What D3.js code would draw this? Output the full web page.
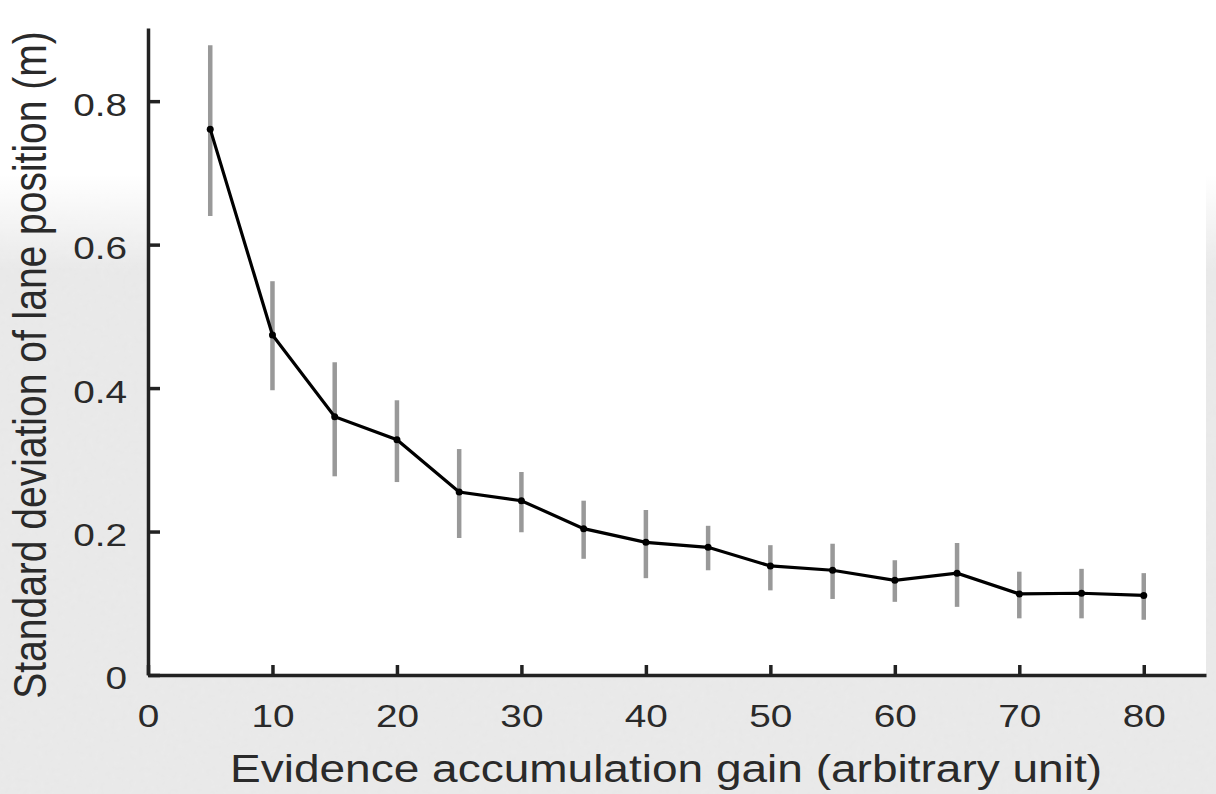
<!DOCTYPE html>
<html>
<head>
<meta charset="utf-8">
<script src="https://cdn.jsdelivr.net/npm/d3@7"></script>
<style>
    body { margin: 0; background: #fff; }
    svg { display: block; }
    text { font-family: "Liberation Sans", Arial, sans-serif; fill: #2a2a2a; }
</style>
</head>
<body>
<div id="chart"></div>
<script>
// gain values on the x axis
var gains = [5, 10, 15, 20, 25, 30, 35, 40, 45, 50, 55, 60, 65, 70, 75, 80];
// mean standard deviation of lane position (m)
var sdMean = [0.761, 0.474, 0.360, 0.328, 0.255, 0.243, 0.204, 0.185, 0.178, 0.152, 0.146, 0.132, 0.142, 0.113, 0.114, 0.111];
// error bar ends
var sdUpper = [0.878, 0.549, 0.436, 0.383, 0.315, 0.283, 0.243, 0.230, 0.208, 0.181, 0.183, 0.160, 0.184, 0.144, 0.148, 0.142];
var sdLower = [0.640, 0.397, 0.277, 0.269, 0.191, 0.199, 0.162, 0.135, 0.146, 0.118, 0.106, 0.102, 0.095, 0.079, 0.079, 0.077];
// tick labels
var xTicks = [0, 10, 20, 30, 40, 50, 60, 70, 80];
var yTicks = [0, 0.2, 0.4, 0.6, 0.8];

var width = 1216;
var height = 794;
var margin = {top: 28, right: 10, bottom: 119, left: 148};
// the source figure is stretched horizontally
var stretch = 1.18;
var tickStretch = 1.25;

var svg = d3.select("#chart").append("svg")
    .attr("width", width)
    .attr("height", height);

// textured grey backdrop
var defs = svg.append("defs");
var noise = defs.append("filter").attr("id", "noise")
    .attr("x", 0).attr("y", 0).attr("width", "100%").attr("height", "100%");
noise.append("feTurbulence")
    .attr("type", "fractalNoise")
    .attr("baseFrequency", 0.18)
    .attr("numOctaves", 3)
    .attr("seed", 4);
noise.append("feColorMatrix")
    .attr("type", "matrix")
    .attr("values", "0 0 0 0 0.86  0 0 0 0 0.86  0 0 0 0 0.86  0.45 0 0 0 -0.08");
var fade = defs.append("linearGradient").attr("id", "fade")
    .attr("x1", 0).attr("y1", 0).attr("x2", 0).attr("y2", 1);
fade.append("stop").attr("offset", "0%").attr("stop-color", "#fff").attr("stop-opacity", 1);
fade.append("stop").attr("offset", "22%").attr("stop-color", "#fff").attr("stop-opacity", 1);
fade.append("stop").attr("offset", "34%").attr("stop-color", "#fff").attr("stop-opacity", 0);

svg.append("rect").attr("width", width).attr("height", height).attr("fill", "#e8e8e8");
svg.append("rect").attr("width", width).attr("height", height).attr("filter", "url(#noise)");
svg.append("rect").attr("width", width).attr("height", height).attr("fill", "url(#fade)");

// scales
var x = d3.scaleLinear().domain([0, 85]).range([margin.left, width - margin.right]);
var y = d3.scaleLinear().domain([0, 0.902]).range([height - margin.bottom, margin.top]);

// white plot area
svg.append("rect")
    .attr("x", x(0)).attr("y", 0)
    .attr("width", x(85) - x(0))
    .attr("height", y(0))
    .attr("fill", "#fff");

// axes
var xAxis = d3.axisBottom(x).tickValues(xTicks).tickSizeInner(-10).tickSizeOuter(0).tickPadding(30)
    .tickFormat(d3.format("d"));
var yAxis = d3.axisLeft(y).tickValues(yTicks).tickSizeInner(-12).tickSizeOuter(0).tickPadding(21)
    .tickFormat(function(d) { return d === 0 ? "0" : d3.format(".1f")(d); });

var gx = svg.append("g")
    .attr("transform", "translate(0," + y(0) + ")")
    .call(xAxis);
var gy = svg.append("g")
    .attr("transform", "translate(" + x(0) + ",0)")
    .call(yAxis);

[gx, gy].forEach(function(g) {
    g.select(".domain").attr("stroke", "#222").attr("stroke-width", 3.5);
    g.selectAll(".tick line").attr("stroke", "#222").attr("stroke-width", 3.5);
    g.selectAll(".tick text").style("font-size", "31px").attr("fill", "#2a2a2a");
});
// widen the tick labels around their anchor
gx.selectAll(".tick text").attr("transform", "scale(" + tickStretch + ",1)");
gy.selectAll(".tick text").attr("y", 4).each(function() {
    var t = d3.select(this);
    var tx = +t.attr("x");
    t.attr("transform", "translate(" + tx + ",0) scale(" + tickStretch + ",1) translate(" + (-tx) + ",0)");
});

// error bars
svg.selectAll(".err").data(gains).enter().append("line")
    .attr("class", "err")
    .attr("x1", function(d) { return x(d); })
    .attr("x2", function(d) { return x(d); })
    .attr("y1", function(d, i) { return y(sdUpper[i]); })
    .attr("y2", function(d, i) { return y(sdLower[i]); })
    .attr("stroke", "#999")
    .attr("stroke-width", 4.5);

// mean line
var line = d3.line()
    .x(function(d) { return x(d); })
    .y(function(d, i) { return y(sdMean[i]); });
svg.append("path")
    .datum(gains)
    .attr("d", line)
    .attr("fill", "none")
    .attr("stroke", "#000")
    .attr("stroke-width", 3.2);

svg.selectAll(".pt").data(gains).enter().append("circle")
    .attr("class", "pt")
    .attr("cx", function(d) { return x(d); })
    .attr("cy", function(d, i) { return y(sdMean[i]); })
    .attr("r", 3.5)
    .attr("fill", "#000");

// axis titles
svg.append("text")
    .text("Evidence accumulation gain (arbitrary unit)")
    .style("font-size", "39px")
    .attr("text-anchor", "middle")
    .attr("transform", "translate(666,782) scale(" + stretch + ",1)");

svg.append("text")
    .text("Standard deviation of lane position (m)")
    .style("font-size", "39px")
    .attr("text-anchor", "middle")
    .attr("transform", "translate(46,365) scale(" + stretch + ",1) rotate(-90)");
</script>
</body>
</html>
